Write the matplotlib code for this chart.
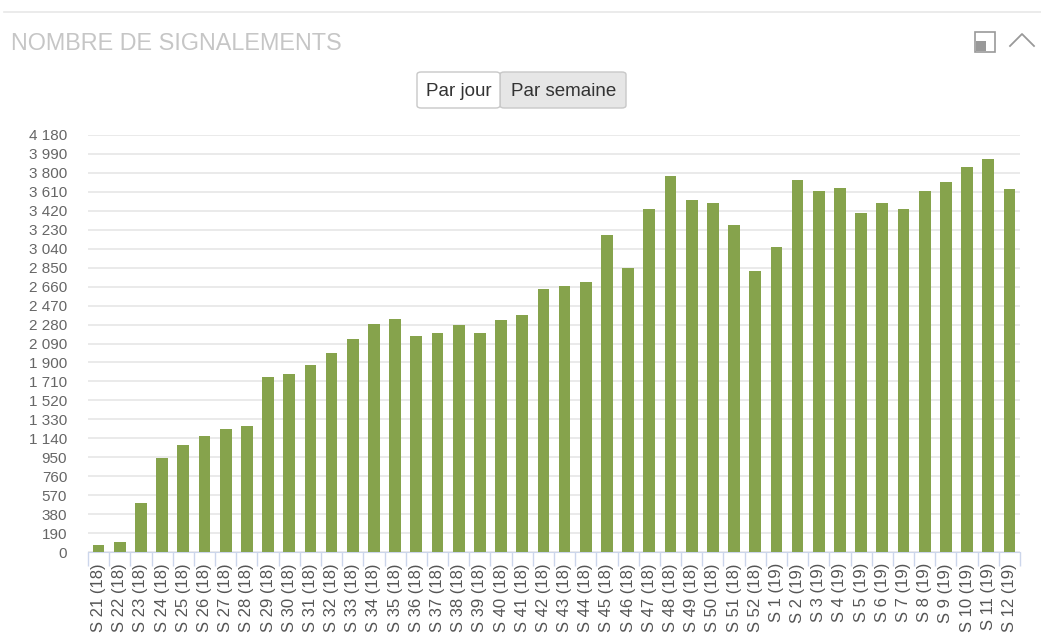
import matplotlib
matplotlib.use("Agg")
import matplotlib.pyplot as plt
from matplotlib.patches import FancyBboxPatch, Rectangle
from matplotlib.lines import Line2D
import numpy as np

plt.rcParams['font.family'] = ['Liberation Sans', 'DejaVu Sans']

weeks = ([f"S {w} (18)" for w in range(21, 53)] +
         [f"S {w} (19)" for w in range(1, 13)])
counts = [70, 100, 490, 945, 1070, 1160, 1230, 1260, 1750, 1780,
          1870, 1990, 2140, 2290, 2340, 2170, 2200, 2280, 2200, 2330,
          2380, 2635, 2670, 2710, 3180, 2850, 3440, 3770, 3530, 3500,
          3280, 2820, 3060, 3730, 3620, 3650, 3400, 3500, 3440, 3620,
          3710, 3860, 3940, 3640]
yticks = list(range(0, 4181, 190))
title = "NOMBRE DE SIGNALEMENTS"
buttons = ["Par jour", "Par semaine"]

W, H = 1041, 640
fig = plt.figure(figsize=(W / 100, H / 100), dpi=100)

def fx(x):
    return x / W

def fy(y):
    return 1 - y / H

ax = fig.add_axes([fx(88), fy(552), fx(1020) - fx(88), fy(135) - fy(552)])
x = np.arange(len(weeks))
ax.bar(x, counts, width=0.55, color="#86a34c", edgecolor="none", zorder=3)
ax.set_xlim(-0.5, len(weeks) - 0.5)
ax.set_ylim(0, 4180)
ax.set_yticks(yticks)
ax.set_yticklabels([f"{v:,}".replace(",", " ") for v in yticks],
                   color="#666666", fontsize=11)
ax.yaxis.grid(True, color="#e6e6e6", linewidth=1.2, zorder=0)
ax.tick_params(axis="y", length=0, pad=15)
ax.set_xticks(x)
ax.set_xticklabels(weeks, rotation=90, color="#555555", fontsize=12)
ax.set_xticks(np.arange(-0.5, len(weeks), 1.0), minor=True)
ax.tick_params(axis="x", which="major", length=0, pad=8)
ax.tick_params(axis="x", which="minor", length=10, color="#ccd6eb", width=1)
for s in ["top", "right", "left"]:
    ax.spines[s].set_visible(False)
ax.spines["bottom"].set_color("#ccd6eb")
ax.set_axisbelow(True)

# header
fig.add_artist(Line2D([fx(4), fx(1041)], [fy(12), fy(12)], color="#e8e8e8",
                      linewidth=1.2))
fig.text(fx(11), fy(43), title, color="#c6c6c6", fontsize=16.8,
         ha="left", va="center")

# icons
fig.add_artist(Rectangle((fx(975), fy(52)), fx(20), fy(32) - fy(52),
                         transform=fig.transFigure, fill=False,
                         edgecolor="#999999", linewidth=1.2))
fig.add_artist(Rectangle((fx(976), fy(51)), fx(10), fy(41) - fy(51),
                         transform=fig.transFigure, facecolor="#999999",
                         edgecolor="none"))
fig.add_artist(Line2D([fx(1010), fx(1022), fx(1034)],
                      [fy(46), fy(34), fy(46)], color="#999999",
                      linewidth=1.3))

# buttons
fig.add_artist(FancyBboxPatch((fx(500), fy(108)), fx(126), fy(72) - fy(108),
                              boxstyle="round,pad=0,rounding_size=0.004",
                              transform=fig.transFigure, facecolor="#e6e6e6",
                              edgecolor="#c8c8c8", linewidth=1))
fig.add_artist(FancyBboxPatch((fx(417), fy(108)), fx(83), fy(72) - fy(108),
                              boxstyle="round,pad=0,rounding_size=0.004",
                              transform=fig.transFigure, facecolor="white",
                              edgecolor="#c8c8c8", linewidth=1))
fig.text(fx(459), fy(96), buttons[0], color="#333333", fontsize=13.5,
         ha="center", va="baseline")
fig.text(fx(563.5), fy(96), buttons[1], color="#333333", fontsize=13.5,
         ha="center", va="baseline")

fig.savefig("out.png", dpi=100, facecolor="white")
